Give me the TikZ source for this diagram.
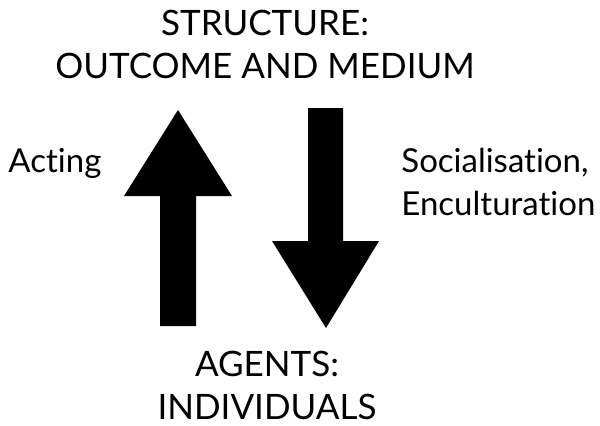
\documentclass[tikz,border=0pt]{standalone}
\usepackage{fontspec}
\setmainfont{Lato}[Ligatures={NoCommon,NoContextual}]
\usepackage{tikz}
\tikzset{>=stealth,auto}
\tikzset{lbl/.style={inner sep=0pt,font=\fontsize{16.5}{21.5}\selectfont}}
\tikzset{caps/.style={lbl,align=center,font=\fontsize{17.5}{21.5}\selectfont}}

\begin{document}
\begin{tikzpicture}[x=0.5pt,y=-0.5pt]
        \useasboundingbox (0,0) rectangle (600,425);
        \node[caps,anchor=north] (struct) at (265,10) {STRUCTURE:\\OUTCOME AND MEDIUM};
        \node[caps,anchor=north] (agents) at (267,351) {AGENTS:\\INDIVIDUALS};
        \node[lbl,anchor=base west] (acting) at (8,172) {Acting};
        \node[lbl,align=left,anchor=north west] (social) at (401,148) {Socialisation,\\Enculturation};
        % up arrow
        \fill (160,326) -- (160,196) -- (124,196) -- (178,110) -- (232,196) -- (196,196) -- (196,326) -- cycle;
        % down arrow
        \fill (308,108) -- (308,241) -- (272,241) -- (326,328) -- (379,241) -- (343,241) -- (343,108) -- cycle;
    \end{tikzpicture}
\end{document}
